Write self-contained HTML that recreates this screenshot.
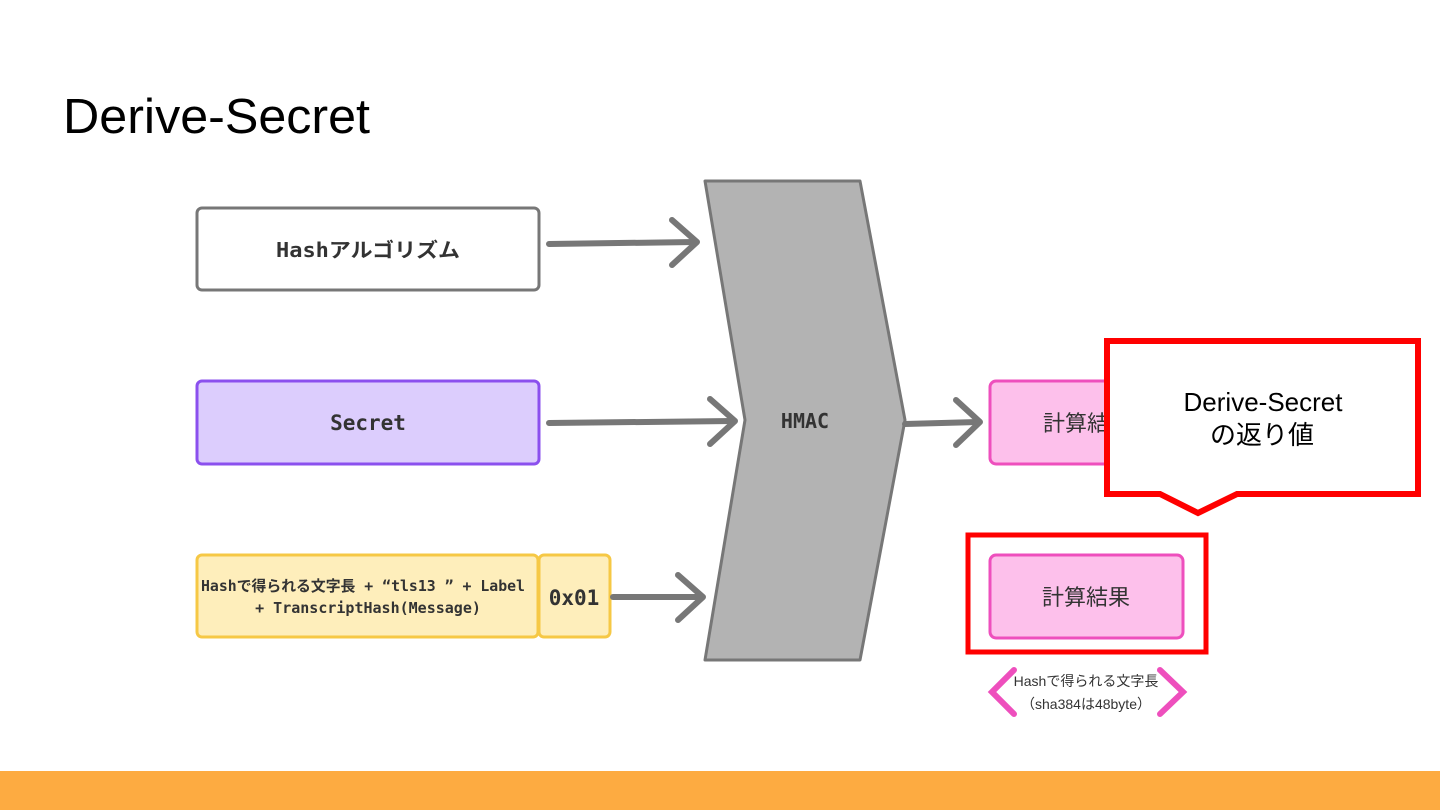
<!DOCTYPE html>
<html><head><meta charset="utf-8"><style>
html,body{margin:0;padding:0;background:#fff}
svg{display:block}
.m{font-family:"DejaVu Sans Mono","Liberation Mono","Noto Sans CJK JP",monospace;font-weight:bold;fill:#333}
.s{font-family:"Liberation Sans","Noto Sans CJK JP",sans-serif}
</style></head><body>
<svg width="1440" height="810" viewBox="0 0 1440 810" xmlns="http://www.w3.org/2000/svg">
<rect width="1440" height="810" fill="#fff"/>
<text x="63" y="133" class="s" font-size="49" fill="#000" textLength="307" lengthAdjust="spacingAndGlyphs">Derive-Secret</text>
<rect x="0" y="771" width="1440" height="39" fill="#fdab41"/>

<rect x="197" y="208" width="342" height="82" rx="5" fill="#fff" stroke="#777" stroke-width="3"/>
<text x="368" y="257" class="m" font-size="20" text-anchor="middle" textLength="184" lengthAdjust="spacingAndGlyphs">Hashアルゴリズム</text>
<rect x="197" y="381" width="342" height="83" rx="5" fill="#dccdfd" stroke="#8b50ee" stroke-width="3"/>
<text x="368" y="430" class="m" font-size="21" text-anchor="middle">Secret</text>
<rect x="197" y="555" width="341" height="82" rx="5" fill="#feeebb" stroke="#f6c845" stroke-width="3"/>
<text x="363" y="591" class="m" font-size="15" text-anchor="middle" textLength="324" lengthAdjust="spacingAndGlyphs">Hashで得られる文字長 + “tls13 ” + Label</text>
<text x="368" y="613" class="m" font-size="15" text-anchor="middle">+ TranscriptHash(Message)</text>
<rect x="539" y="555" width="71" height="82" rx="5" fill="#feeebb" stroke="#f6c845" stroke-width="3"/>
<text x="574" y="605" class="m" font-size="21" text-anchor="middle">0x01</text>

<polygon points="705,181 860,181 905,420 860,660 705,660 745,420" fill="#b3b3b3" stroke="#777" stroke-width="3" stroke-linejoin="round"/>
<text x="805" y="428" class="m" font-size="20" text-anchor="middle">HMAC</text>

<g stroke="#777" stroke-width="6" fill="none" stroke-linecap="round" stroke-linejoin="round">
<line x1="549" y1="244" x2="695" y2="242"/><polyline points="672,220 697,242 672,265"/>
<line x1="549" y1="423" x2="733" y2="421"/><polyline points="710,399 735,421 710,444"/>
<line x1="613" y1="597" x2="701" y2="597"/><polyline points="678,575 703,597 678,620"/>
<line x1="905" y1="424" x2="978" y2="422"/><polyline points="956,400 980,422 956,445"/>
</g>

<rect x="990" y="381" width="140" height="83" rx="6" fill="#fdc0eb" stroke="#ee4fbd" stroke-width="3"/>
<text x="1043" y="431" class="s" font-size="22" fill="#333">計算結</text>

<path d="M1107,341 H1418 V494 H1237 L1198,513 L1160,494 H1107 Z" fill="#fff" stroke="#f00" stroke-width="6" stroke-linejoin="miter"/>
<text x="1263" y="411" class="s" font-size="26" fill="#000" text-anchor="middle">Derive-Secret</text>
<text x="1262" y="444" class="s" font-size="26" fill="#000" text-anchor="middle">の返り値</text>

<rect x="968" y="535" width="238" height="117" fill="none" stroke="#f00" stroke-width="5"/>
<rect x="990" y="555" width="193" height="83" rx="6" fill="#fdc0eb" stroke="#ee4fbd" stroke-width="3"/>
<text x="1086" y="605" class="s" font-size="22" fill="#333" text-anchor="middle">計算結果</text>

<g stroke="#ee4fbd" stroke-width="6" fill="none" stroke-linecap="round">
<polyline points="1014,670 992,692 1014,714"/>
<polyline points="1160,670 1183,692 1160,714"/>
</g>
<text x="1086" y="686" class="s" font-size="14" fill="#333" text-anchor="middle">Hashで得られる文字長</text>
<text x="1086" y="709" class="s" font-size="14" fill="#333" text-anchor="middle">（sha384は48byte）</text>
</svg>
</body></html>
